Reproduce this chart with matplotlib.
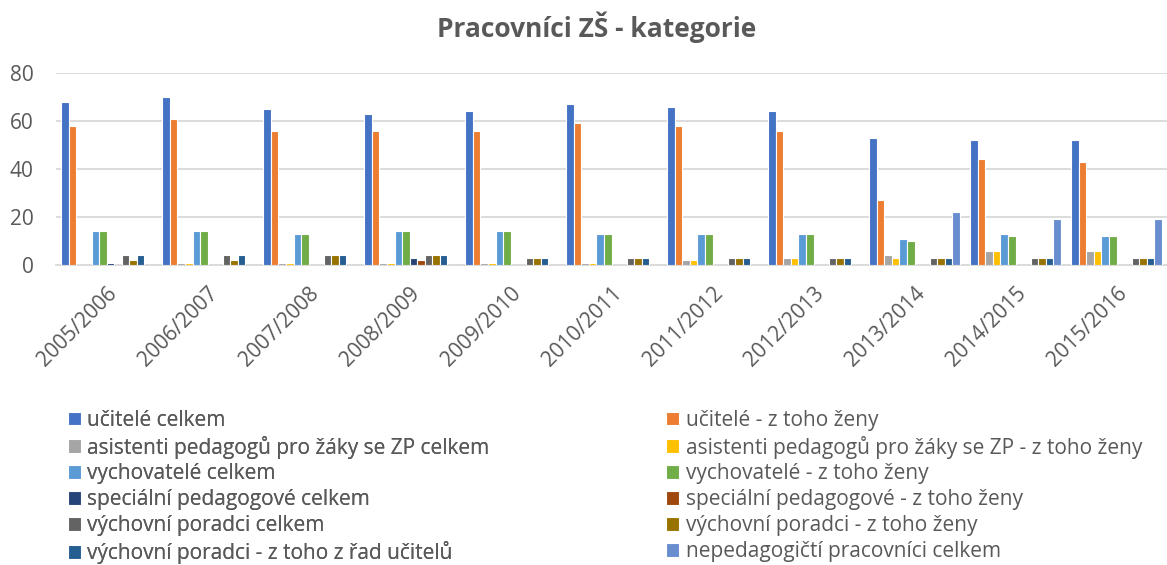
import matplotlib.pyplot as plt
import numpy as np

plt.rcParams['font.family'] = ['Open Sans', 'DejaVu Sans']

years = ['2005/2006', '2006/2007', '2007/2008', '2008/2009', '2009/2010', '2010/2011',
         '2011/2012', '2012/2013', '2013/2014', '2014/2015', '2015/2016']

names = ['učitelé celkem', 'učitelé - z toho ženy',
         'asistenti pedagogů pro žáky se ZP celkem', 'asistenti pedagogů pro žáky se ZP - z toho ženy',
         'vychovatelé celkem', 'vychovatelé - z toho ženy',
         'speciální pedagogové celkem', 'speciální pedagogové - z toho ženy',
         'výchovní poradci celkem', 'výchovní poradci - z toho ženy',
         'výchovní poradci - z toho z řad učitelů', 'nepedagogičtí pracovníci celkem']

ucitele = [68, 70, 65, 63, 64, 67, 66, 64, 53, 52, 52]
ucitele_zeny = [58, 61, 56, 56, 56, 59, 58, 56, 27, 44, 43]
asistenti = [0, 1, 1, 1, 1, 1, 2, 3, 4, 6, 6]
asistenti_zeny = [0, 1, 1, 1, 1, 1, 2, 3, 3, 6, 6]
vychovatele = [14, 14, 13, 14, 14, 13, 13, 13, 11, 13, 12]
vychovatele_zeny = [14, 14, 13, 14, 14, 13, 13, 13, 10, 12, 12]
specialni = [1, 0, 0, 3, 0, 0, 0, 0, 0, 0, 0]
specialni_zeny = [0, 0, 0, 2, 0, 0, 0, 0, 0, 0, 0]
poradci = [4, 4, 4, 4, 3, 3, 3, 3, 3, 3, 3]
poradci_zeny = [2, 2, 4, 4, 3, 3, 3, 3, 3, 3, 3]
poradci_ucitele = [4, 4, 4, 4, 3, 3, 3, 3, 3, 3, 3]
nepedagogicti = [0, 0, 0, 0, 0, 0, 0, 0, 22, 19, 19]

series = [ucitele, ucitele_zeny, asistenti, asistenti_zeny, vychovatele, vychovatele_zeny,
          specialni, specialni_zeny, poradci, poradci_zeny, poradci_ucitele, nepedagogicti]
colors = ['#4472C4', '#ED7D31', '#A5A5A5', '#FFC000', '#5B9BD5', '#70AD47',
          '#264478', '#9E480E', '#636363', '#997300', '#255E91', '#698ED0']

fig = plt.figure(figsize=(11.67, 5.65), dpi=100)
ax = fig.add_axes([0.048, 0.531, 0.952, 0.34])

x = np.arange(len(years))
n = len(series)
slot = 0.0743
for i, vals in enumerate(series):
    ax.bar(x + (i - (n - 1) / 2) * slot, vals, width=slot, color=colors[i],
           edgecolor='white', linewidth=0.8, label=names[i], zorder=3)

ax.set_xlim(-0.5, len(years) - 0.5)
ax.set_ylim(0, 80)
ax.set_yticks([0, 20, 40, 60, 80])
ax.grid(axis='y', color='#D9D9D9', linewidth=1.3, zorder=0)
for s in ['top', 'right', 'left']:
    ax.spines[s].set_visible(False)
ax.spines['bottom'].set_color('#D9D9D9')
ax.spines['bottom'].set_linewidth(1.3)
ax.tick_params(axis='both', length=0, colors='#595959', labelsize=15)
ax.tick_params(axis='y', pad=16)
ax.set_xticks(x)
ax.set_xticklabels(years, rotation=45, ha='right', rotation_mode='anchor')
ax.tick_params(axis='x', pad=13)

fig.text(0.511, 0.952, 'Pracovníci ZŠ - kategorie', fontsize=19, fontweight='bold',
         color='#595959', ha='center', va='center')

handles, labels = ax.get_legend_handles_labels()
leg_kw = dict(loc='upper left', frameon=False, fontsize=15, handlelength=0.62,
              handleheight=0.62, handletextpad=0.3, labelspacing=0.235,
              borderaxespad=0, borderpad=0, labelcolor='#595959')
# Excel lays the legend out row by row, so split into two column legends
left = fig.legend(handles[0::2], labels[0::2], bbox_to_anchor=(0.058, 0.275), **leg_kw)
fig.add_artist(left)
fig.legend(handles[1::2], labels[1::2], bbox_to_anchor=(0.571, 0.275), **leg_kw)

fig.savefig('out.png', dpi=100)
